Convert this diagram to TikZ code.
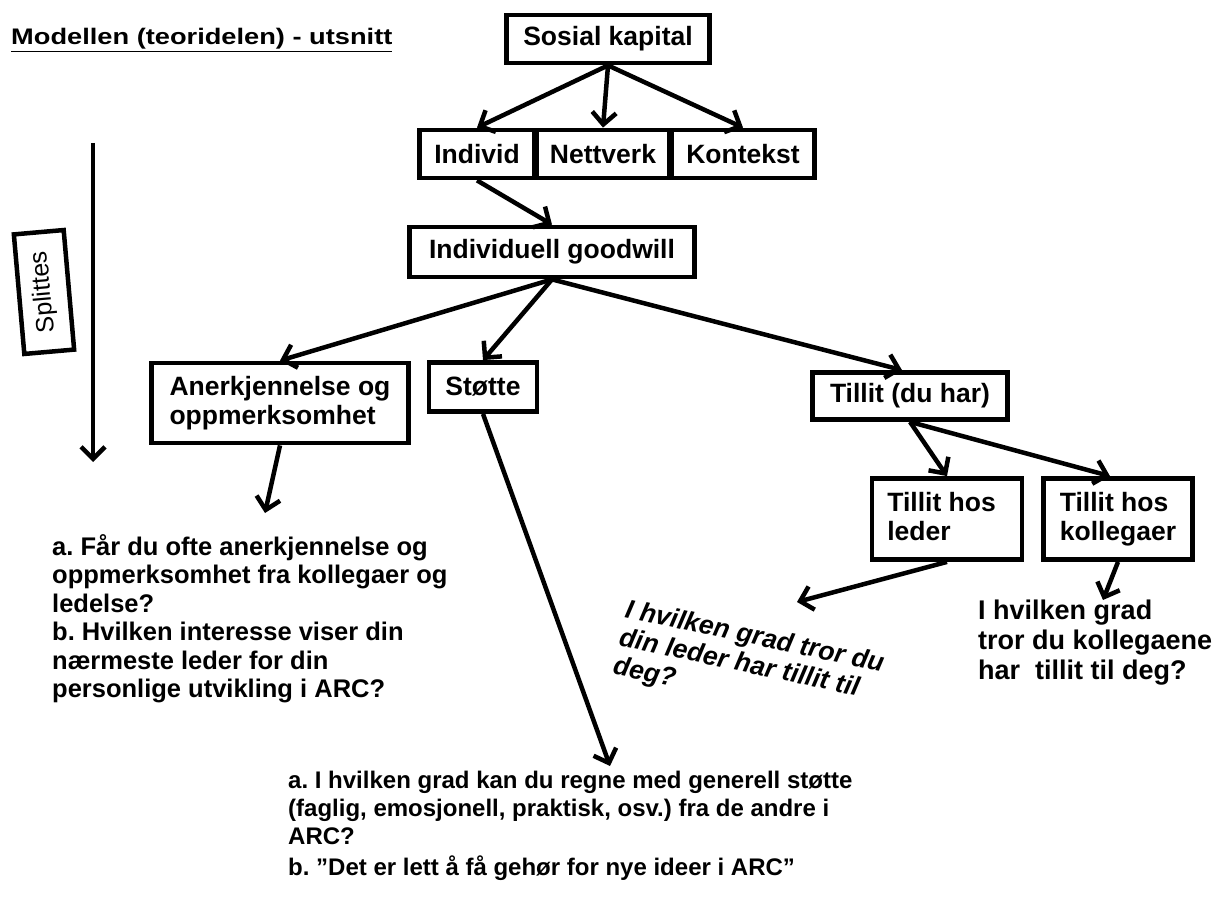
\documentclass[tikz,border=0pt]{standalone}
\usepackage{fontspec}
\setmainfont{Liberation Sans}
\usetikzlibrary{arrows.meta,calc}
\tikzset{
  box/.style={draw, line width=4.8pt, inner sep=0pt, font=\fontsize{26.5}{29}\selectfont\bfseries, align=center},
  conn/.style={line width=4.5pt, -{Straight Barb[length=12pt,width=24pt,line width=4.5pt]}},
  qtext/.style={font=\fontsize{25.5}{28.5}\selectfont\bfseries, align=left, inner sep=0pt, anchor=north west},
}
\frenchspacing
\begin{document}
\begin{tikzpicture}[x=1pt,y=-1pt]
\useasboundingbox (0,0) rectangle (1227,909);
\fill[white] (0,0) rectangle (1227,909);

% heading
\node[anchor=base west, inner sep=0pt, font=\fontsize{22.5}{24}\selectfont\bfseries, xscale=1.21, transform shape] (title) at (11,45) {\underline{Modellen (teoridelen) - utsnitt}};

% "Splittes" marker with its downward arrow
\coordinate (sTop) at (93,143);
\coordinate (sBot) at (93,462);
\draw[conn, line width=3.8pt] (sTop) -- (sBot);
\node[draw, line width=4.5pt, rotate=95, minimum width=120pt, minimum height=50pt, inner sep=0pt, font=\fontsize{25}{28}\selectfont] (split) at (44,292) {Splittes};

% model boxes
\node[box, minimum width=203pt, minimum height=48pt] (sk) at (608,39) {Sosial kapital};
\node[box, minimum width=115pt, minimum height=48pt] (ind) at (477,154) {Individ};
\node[box, minimum width=133pt, minimum height=48pt] (net) at (603,154) {Nettverk};
\node[box, minimum width=143pt, minimum height=48pt] (kon) at (743,154) {Kontekst};
\node[box, minimum width=285pt, minimum height=50pt] (gw) at (552,252) {Individuell goodwill};
\node[box, minimum width=257pt, minimum height=80pt, align=left] (anr) at (280,403) {Anerkjennelse og\\oppmerksomhet};
\node[box, minimum width=108pt, minimum height=49pt] (st) at (483,387) {Støtte};
\node[box, minimum width=195pt, minimum height=47pt] (til) at (910,396) {Tillit (du har)};
\node[box, minimum width=150pt, minimum height=81pt, align=left] (ld) at (947,519) {Tillit hos\\leder\phantom{gaer}};
\node[box, minimum width=149pt, minimum height=81pt, align=left] (kol) at (1118,519) {Tillit hos\\kollegaer};

% questions
\node[qtext] (q1) at (52,534) {a. Får du ofte anerkjennelse og\\oppmerksomhet fra kollegaer og\\ledelse?\\b. Hvilken interesse viser din\\nærmeste leder for din\\personlige utvikling i ARC?};
\node[qtext, font=\fontsize{24}{28}\selectfont\bfseries] (q2) at (288,771) {a. I hvilken grad kan du regne med generell støtte\\(faglig, emosjonell, praktisk, osv.) fra de andre i\\ARC?\\[3pt]b. ”Det er lett å få gehør for nye ideer i ARC”};
\node[qtext, font=\fontsize{26.5}{29}\selectfont\bfseries\itshape, rotate=-12] (q3) at (628,598) {I hvilken grad tror du\\din leder har tillit til\\deg?};
\node[qtext, font=\fontsize{27}{30}\selectfont\bfseries, anchor=north west] (q4) at (978,600) {I hvilken grad\\tror du kollegaene\\har\ \ tillit til deg?};

% connector end points on the free text
\coordinate (q1in) at (265,513);
\coordinate (q2in) at (610,766);
\coordinate (q3in) at (797,602);
\coordinate (q4in) at (1103,600);

% connectors
\draw[conn] (sk.south) -- (ind.north);
\draw[conn] (sk.south) -- (net.north);
\draw[conn] (sk.south) -- (kon.north);
\draw[conn] (ind.south) -- (gw.north);
\draw[conn] (gw.south) -- (anr.north);
\draw[conn] (gw.south) -- (st.north);
\draw[conn] (gw.south) -- ($(til.north)+(-8,0)$);
\draw[conn] (til.south) -- (ld.north);
\draw[conn] (til.south) -- ($(kol.north)+(-8,0)$);
\draw[conn] (anr.south) -- (q1in);
\draw[conn] (st.south) -- (q2in);
\draw[conn] (ld.south) -- (q3in);
\draw[conn] (kol.south) -- (q4in);
\end{tikzpicture}
\end{document}
